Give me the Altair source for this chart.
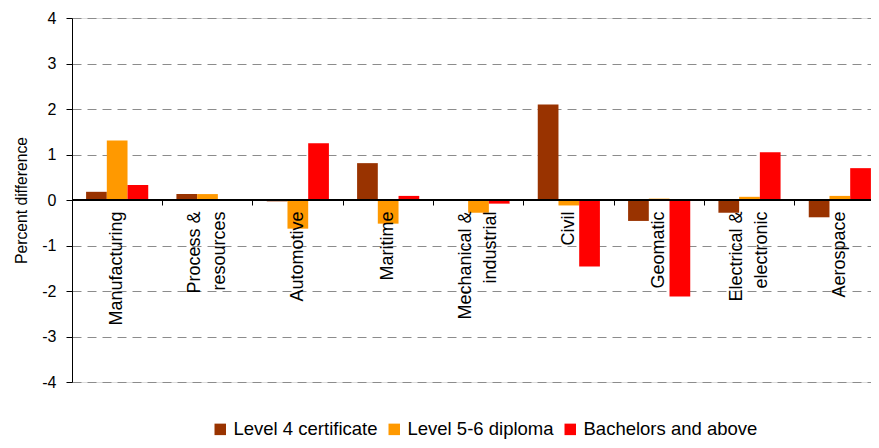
import altair as alt
import pandas as pd

categories = ["Manufacturing", "Process &|resources", "Automotive", "Maritime",
              "Mechanical &|industrial", "Civil", "Geomatic",
              "Electrical &|electronic", "Aerospace"]
series = ["Level 4 certificate", "Level 5-6 diploma", "Bachelors and above"]
level4 = [0.18, 0.13, -0.03, 0.81, 0.0, 2.10, -0.46, -0.28, -0.38]
level56 = [1.31, 0.13, -0.63, -0.52, -0.28, -0.12, 0.03, 0.07, 0.09]
bachelors = [0.33, 0.0, 1.25, 0.09, -0.08, -1.46, -2.12, 1.05, 0.70]
colors = ["#993300", "#FF9900", "#FF0000"]
y_ticks = [-4, -3, -2, -1, 0, 1, 2, 3, 4]
zero_line = [0]

rows = []
for s, vals in zip(series, [level4, level56, bachelors]):
    for c, v in zip(categories, vals):
        rows.append({"category": c, "series": s, "value": v})
df = pd.DataFrame(rows)

W = 813
H = 364
FONT = "Liberation Sans"

bars = alt.Chart(df).mark_bar().encode(
    x=alt.X("category:N", sort=categories,
            scale=alt.Scale(paddingInner=0, paddingOuter=0),
            axis=alt.Axis(title=None, orient="bottom", offset=-H / 2,
                          bandPosition=0, domain=True, ticks=True,
                          domainColor="black", domainWidth=1.2,
                          labelAngle=-90, labelAlign="right", labelBaseline="middle",
                          labelExpr="split(datum.label, '|')",
                          labelOffset={"expr": "indexof(datum.value, '|') >= 0 ? -12.5 : 0"},
                          labelLineHeight=25, labelFontSize=18, labelFont=FONT,
                          labelColor="black", tickSize=5, tickColor="black",
                          tickWidth=1, labelPadding=6,
                          labelOverlap=False, labelBound=False, labelFlush=False,
                          grid=False, zindex=2)),
    xOffset=alt.XOffset("series:N", sort=series,
                        scale=alt.Scale(paddingInner=0, paddingOuter=0.68)),
    y=alt.Y("value:Q", scale=alt.Scale(domain=[-4, 4], nice=False, zero=False),
            axis=alt.Axis(title="Percent difference", values=y_ticks,
                          labelExpr="'' + datum.value",
                          tickSize=6, labelPadding=10, labelFontSize=16,
                          labelFont=FONT, titleFont=FONT, titleFontSize=15.7,
                          titleFontWeight="normal", titlePadding=12,
                          grid=True, gridDash=[9, 6], gridColor="#8c8c8c",
                          domainColor="black", tickColor="black",
                          labelColor="black", titleColor="black")),
    color=alt.Color("series:N", sort=series,
                    scale=alt.Scale(domain=series, range=colors),
                    legend=alt.Legend(title=None, orient="none", direction="horizontal",
                                      legendX=139, legendY=402,
                                      symbolType="square", symbolSize=132,
                                      symbolStrokeWidth=0, symbolOpacity=1,
                                      labelFontSize=18.5, labelFont=FONT,
                                      labelLimit=400,
                                      labelColor="black", columnPadding=7,
                                      labelOffset=4, padding=0)),
)

zero = alt.Chart(pd.DataFrame({"v": zero_line})).mark_rule(
    color="black", strokeWidth=2
).encode(y=alt.Y("v:Q"))

chart = alt.layer(bars, zero).properties(
    width=W, height=H,
    autosize=alt.AutoSizeParams(type="none"),
    padding={"left": 64, "top": 10, "right": -14, "bottom": 57},
).configure_view(stroke=None).configure(font=FONT)

chart.save("out.html", embed_options={"renderer": "svg", "actions": False})
